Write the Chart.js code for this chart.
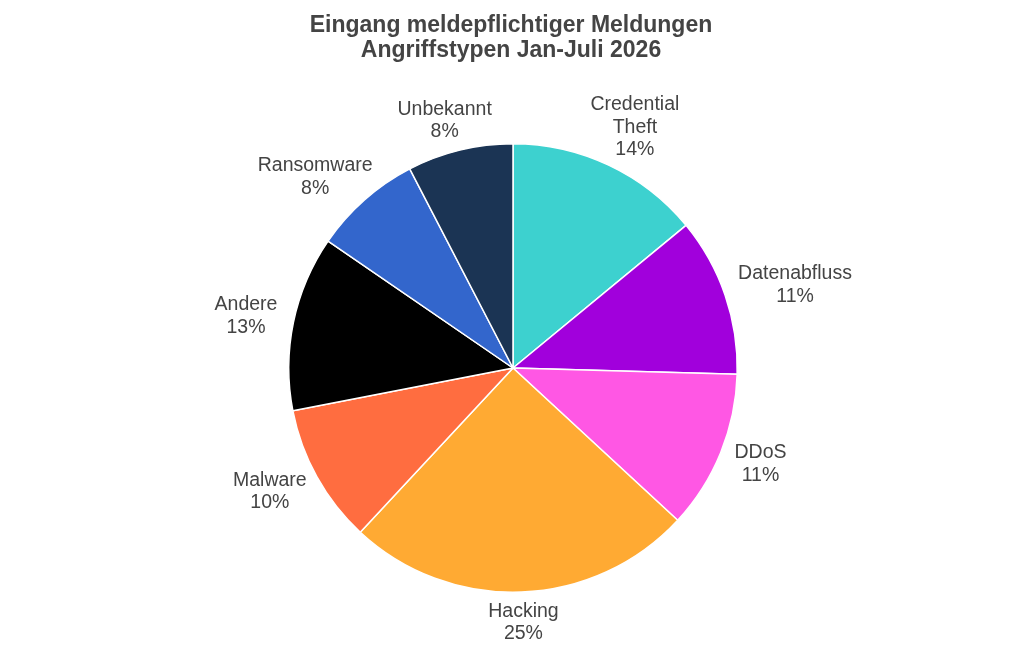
<!DOCTYPE html>
<html>
<head>
<meta charset="utf-8">
<script src="https://cdn.jsdelivr.net/npm/chart.js@4/dist/chart.umd.min.js"></script>
<style>
  html, body { margin: 0; padding: 0; background: #fff; }
  #wrap { width: 1024px; height: 651px; }
</style>
</head>
<body>
<div id="wrap"><canvas id="pieChart" width="1024" height="651"></canvas></div>
<script>
const TITLE_LINES = ["Eingang meldepflichtiger Meldungen", "Angriffstypen Jan-Juli 2026"];

const categories = ["Credential Theft", "Datenabfluss", "DDoS", "Hacking", "Malware", "Andere", "Ransomware", "Unbekannt"];
const shares = [14, 11.4, 11.4, 25, 10, 12.6, 7.8, 7.6];
const sliceColors = ["#3dd1cf", "#a100dc", "#ff57e4", "#ffaa33", "#ff6d40", "#000000", "#3366cc", "#1b3454"];

const FONT = "'Liberation Sans', Arial, sans-serif";
const TEXT_COLOR = "#444";

// title + outside labels, drawn by hand
const pieText = {
  id: "pieText",
  afterDraw(chart) {
    const ctx = chart.ctx;
    ctx.save();
    ctx.fillStyle = TEXT_COLOR;
    ctx.textAlign = "center";
    ctx.textBaseline = "middle";

    ctx.font = "bold 23px " + FONT;
    ctx.fillText(TITLE_LINES[0], 511, 26);
    ctx.fillText(TITLE_LINES[1], 511, 51);

    const data = chart.data.datasets[0].data;
    const total = data.reduce((a, b) => a + b, 0);
    const meta = chart.getDatasetMeta(0);
    const lh = 22.5;
    const gapX = 17;
    const gapY = 8;
    ctx.font = "19.5px " + FONT;

    meta.data.forEach((arc, i) => {
      const p = arc.getProps(["x", "y", "startAngle", "endAngle", "outerRadius"], true);
      const mid = (p.startAngle + p.endAngle) / 2;
      const dx = Math.cos(mid);
      const dy = Math.sin(mid);
      const lines = categories[i].split(" ");
      lines.push(Math.round(data[i] / total * 100) + "%");
      const w = Math.max(...lines.map(l => ctx.measureText(l).width));
      const h = lines.length * lh;
      // point on the rim, then push the text box outwards
      const ax = p.x + p.outerRadius * dx;
      const ay = p.y + p.outerRadius * dy;
      const cx = ax + dx * (w / 2 + gapX);
      const cy = ay + dy * (h / 2 + gapY);
      lines.forEach((l, k) => {
        ctx.fillText(l, cx, cy - h / 2 + lh * (k + 0.5));
      });
    });
    ctx.restore();
  }
};

document.addEventListener("DOMContentLoaded", () => {
  const ctx = document.getElementById("pieChart").getContext("2d");

  new Chart(ctx, {
    type: "pie",
    data: {
      labels: categories,
      datasets: [
        {
          data: shares,
          backgroundColor: sliceColors,
          borderColor: "#ffffff",
          borderWidth: 1.5,
        },
      ],
    },
    options: {
      responsive: false,
      animation: false,
      layout: {
        padding: { top: 143, bottom: 58, left: 2, right: 0 },
      },
      plugins: {
        legend: { display: false },
        tooltip: { enabled: false },
        title: { display: false },
      },
    },
    plugins: [pieText],
  });
});
</script>
</body>
</html>
